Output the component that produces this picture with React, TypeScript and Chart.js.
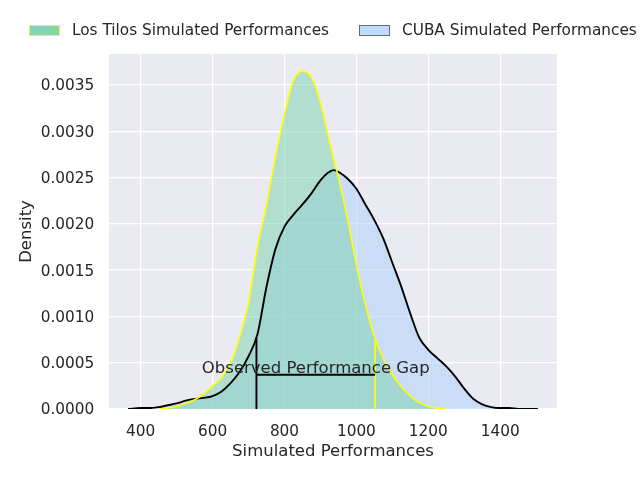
import { useEffect, useRef } from 'react';
import { Chart, registerables, type ChartConfiguration, type Plugin } from 'chart.js';

Chart.register(...registerables);

// KDE curves (x = simulated performance, y = density)
const losTilosX = [
  450, 475, 500, 525, 550, 575, 600, 625, 650, 675, 700, 725, 750, 775, 800, 825, 850,
  875, 900, 925, 950, 975, 1000, 1025, 1050, 1075, 1100, 1125, 1150, 1175, 1200, 1225, 1250,
];
const losTilosDensity = [
  0, 0.00001, 0.00003, 0.00006, 0.0001, 0.00016, 0.00025, 0.00034, 0.0005, 0.00077, 0.00115,
  0.00175, 0.0022, 0.00272, 0.00318, 0.00355, 0.00365, 0.00358, 0.00331, 0.00289, 0.0025,
  0.00206, 0.00156, 0.00113, 0.00078, 0.00054, 0.00037, 0.00024, 0.00014, 0.00007, 0.00003,
  0.00001, 0,
];

const cubaX = [
  365, 400, 425, 450, 475, 500, 525, 550, 575, 600, 625, 650, 675, 700, 725, 750, 775, 800,
  825, 850, 875, 900, 920, 937, 955, 975, 1000, 1025, 1050, 1075, 1100, 1125, 1150, 1175, 1200,
  1225, 1250, 1275, 1300, 1325, 1350, 1375, 1400, 1425, 1450, 1475, 1505,
];
const cubaDensity = [
  0, 0.00001, 0.00001, 0.00002, 0.00004, 0.00006, 0.00009, 0.00011, 0.00012, 0.00014, 0.00019,
  0.00028, 0.0004, 0.00057, 0.00081, 0.00132, 0.00173, 0.00197, 0.0021, 0.00221, 0.00233,
  0.00247, 0.00255, 0.00258, 0.00255, 0.00249, 0.00238, 0.00221, 0.00204, 0.00184, 0.00158, 0.00132,
  0.00103, 0.00077, 0.00064, 0.00055, 0.00046, 0.00035, 0.00022, 0.00011, 0.00005, 0.00002,
  0.00001, 0.00001, 0, 0, 0,
];

const xTicks = [400, 600, 800, 1000, 1200, 1400];
const yTicks = [0, 0.0005, 0.001, 0.0015, 0.002, 0.0025, 0.003, 0.0035];

// observed gap marker
const gapStart = 722;
const gapEnd = 1052;
const gapStartHeight = 0.00077;
const gapEndHeight = 0.00075;
const gapLevel = 0.00037;
const gapLabel = 'Observed Performance Gap';

const seriesLabels = ['Los Tilos Simulated Performances', 'CUBA Simulated Performances'];

const FONT = "'DejaVu Sans', sans-serif";
const TEXT = '#262626';

const bgPlugin: Plugin = {
  id: 'axesBg',
  beforeDraw(chart) {
    const { ctx, chartArea } = chart;
    ctx.save();
    ctx.fillStyle = '#eaeaf2';
    ctx.fillRect(chartArea.left, chartArea.top, chartArea.width, chartArea.height);
    ctx.restore();
  },
};

// figure-level legend, centred over the axes like matplotlib's
const legendPlugin: Plugin = {
  id: 'figLegend',
  afterDraw(chart) {
    const { ctx } = chart;
    const items = [
      { x: 29, fill: '#84d6b0', edge: '#eef25a' },
      { x: 359, fill: '#bfdcfd', edge: '#666c78' },
    ];
    ctx.save();
    ctx.font = `15.3px ${FONT}`;
    ctx.textBaseline = 'middle';
    items.forEach((it, i) => {
      ctx.fillStyle = it.fill;
      ctx.fillRect(it.x, 25, 31, 11);
      ctx.strokeStyle = it.edge;
      ctx.lineWidth = 1;
      ctx.strokeRect(it.x + 0.5, 25.5, 30, 10);
      ctx.fillStyle = TEXT;
      ctx.fillText(seriesLabels[i], it.x + 43, 31.5);
    });
    ctx.restore();
  },
};

const gapLabelPlugin: Plugin = {
  id: 'gapLabel',
  afterDatasetsDraw(chart) {
    const { ctx, scales } = chart;
    const x = scales.x.getPixelForValue((gapStart + gapEnd) / 2);
    const y = scales.y.getPixelForValue(gapLevel);
    ctx.save();
    ctx.font = `16.5px ${FONT}`;
    ctx.fillStyle = TEXT;
    ctx.textAlign = 'center';
    ctx.textBaseline = 'alphabetic';
    ctx.fillText(gapLabel, x, y - 2);
    ctx.restore();
  },
};

export default function App() {
  const canvasRef = useRef<HTMLCanvasElement>(null);
  const chartRef = useRef<Chart | null>(null);

  useEffect(() => {
    document.body.style.margin = '0';
    if (!canvasRef.current) return;
    if (chartRef.current) chartRef.current.destroy();

    const config: ChartConfiguration<'line'> = {
      type: 'line',
      data: {
        datasets: [
          {
            label: seriesLabels[0],
            data: losTilosX.map((x, i) => ({ x, y: losTilosDensity[i] })),
            borderColor: '#ffff00',
            backgroundColor: 'rgba(120, 210, 170, 0.5)',
            borderWidth: 1.6,
            fill: 'origin',
            pointRadius: 0,
            cubicInterpolationMode: 'monotone',
          },
          {
            label: seriesLabels[1],
            data: cubaX.map((x, i) => ({ x, y: cubaDensity[i] })),
            borderColor: '#000000',
            backgroundColor: 'rgba(170, 205, 250, 0.5)',
            borderWidth: 1.9,
            fill: 'origin',
            pointRadius: 0,
            cubicInterpolationMode: 'monotone',
          },
          {
            label: 'gap start',
            data: [{ x: gapStart, y: 0 }, { x: gapStart, y: gapStartHeight }],
            borderColor: '#000000',
            borderWidth: 1.9,
            fill: false,
            pointRadius: 0,
            order: -1,
          },
          {
            label: 'gap level',
            data: [{ x: gapStart, y: gapLevel }, { x: gapEnd, y: gapLevel }],
            borderColor: '#000000',
            borderWidth: 1.9,
            fill: false,
            pointRadius: 0,
            order: -1,
          },
          {
            label: 'gap end',
            data: [{ x: gapEnd, y: 0 }, { x: gapEnd, y: gapEndHeight }],
            borderColor: '#ffff00',
            borderWidth: 1.6,
            fill: false,
            pointRadius: 0,
            order: -1,
          },
        ],
      },
      options: {
        animation: false,
        responsive: true,
        maintainAspectRatio: false,
        layout: { padding: { top: 54, right: 83, left: 0, bottom: 0 } },
        plugins: {
          legend: { display: false },
          tooltip: { enabled: false },
          filler: { drawTime: 'beforeDatasetsDraw' },
        },
        scales: {
          x: {
            type: 'linear',
            min: 311.9,
            max: 1558,
            afterBuildTicks: (scale) => {
              scale.ticks = xTicks.map((value) => ({ value }));
            },
            afterFit: (scale) => {
              scale.height = 71;
            },
            border: { display: false },
            grid: { color: '#ffffff', lineWidth: 1.3, drawTicks: false },
            ticks: {
              color: TEXT,
              font: { family: FONT, size: 15.3 },
              padding: 14,
              maxRotation: 0,
              callback: (v) => String(v),
            },
            title: {
              display: true,
              text: 'Simulated Performances',
              color: TEXT,
              font: { family: FONT, size: 16.5 },
              padding: { top: 0, bottom: 18 },
            },
          },
          y: {
            type: 'linear',
            min: 0,
            max: 0.003835,
            afterBuildTicks: (scale) => {
              scale.ticks = yTicks.map((value) => ({ value }));
            },
            afterFit: (scale) => {
              scale.width = 109;
            },
            border: { display: false },
            grid: { color: '#ffffff', lineWidth: 1.3, drawTicks: false },
            ticks: {
              color: TEXT,
              font: { family: FONT, size: 15.3 },
              padding: 14.7,
              labelOffset: 1.5,
              callback: (v) => Number(v).toFixed(4),
            },
            title: {
              display: true,
              text: 'Density',
              color: TEXT,
              font: { family: FONT, size: 16.5 },
              padding: { top: 17, bottom: 0 },
            },
          },
        },
      },
      plugins: [bgPlugin, legendPlugin, gapLabelPlugin],
    };

    chartRef.current = new Chart(canvasRef.current, config);

    return () => {
      if (chartRef.current) {
        chartRef.current.destroy();
        chartRef.current = null;
      }
    };
  }, []);

  return (
    <div style={{ width: '640px', height: '480px', position: 'relative' }}>
      <canvas ref={canvasRef} />
    </div>
  );
}
